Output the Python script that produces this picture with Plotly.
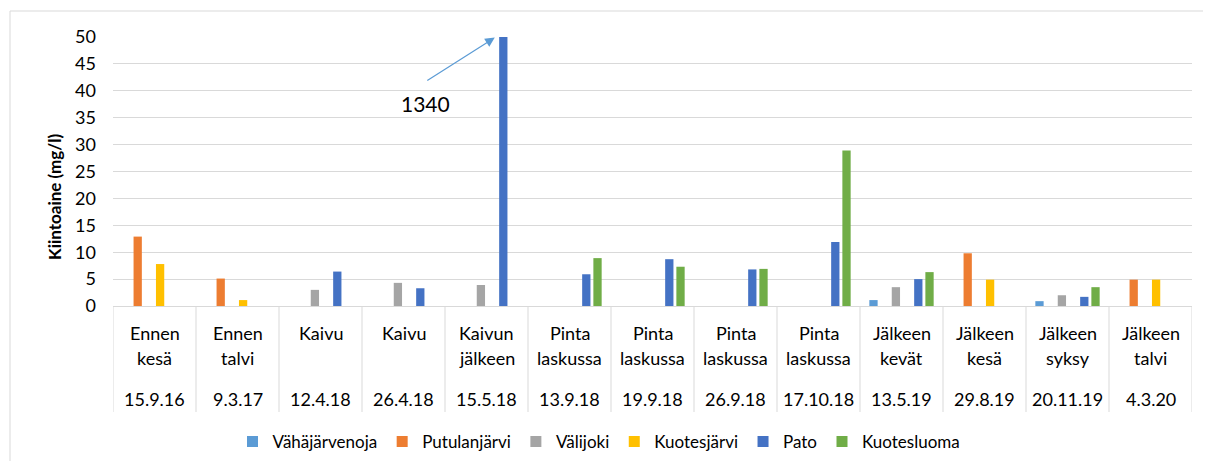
import plotly.graph_objects as go

phases = ["Ennen kesä", "Ennen talvi", "Kaivu", "Kaivu", "Kaivun jälkeen",
          "Pinta laskussa", "Pinta laskussa", "Pinta laskussa", "Pinta laskussa",
          "Jälkeen kevät", "Jälkeen kesä", "Jälkeen syksy", "Jälkeen talvi"]
dates = ["15.9.16", "9.3.17", "12.4.18", "26.4.18", "15.5.18", "13.9.18", "19.9.18",
         "26.9.18", "17.10.18", "13.5.19", "29.8.19", "20.11.19", "4.3.20"]

vahajarvenoja = [None, None, None, None, None, None, None, None, None, 1.1, None, 0.9, None]
putulanjarvi = [12.9, 5.1, None, None, None, None, None, None, None, None, 9.8, None, 4.9]
valijoki = [None, None, 3.0, 4.3, 3.9, None, None, None, None, 3.5, None, 2.0, None]
kuotesjarvi = [7.8, 1.1, None, None, None, None, None, None, None, None, 4.9, None, 4.9]
pato = [None, None, 6.4, 3.3, 1340, 5.9, 8.7, 6.8, 11.9, 5.0, None, 1.7, None]
kuotesluoma = [None, None, None, None, None, 8.9, 7.3, 6.9, 28.9, 6.3, None, 3.5, None]

series_names = ["Vähäjärvenoja", "Putulanjärvi", "Välijoki", "Kuotesjärvi", "Pato", "Kuotesluoma"]
series_values = [vahajarvenoja, putulanjarvi, valijoki, kuotesjarvi, pato, kuotesluoma]
colors = ["#5B9BD5", "#ED7D31", "#A5A5A5", "#FFC000", "#4472C4", "#70AD47"]

annot_value = "1340"
y_title = "Kiintoaine (mg/l)"

FONT = "Lato"
TXT = "#000000"
GRID = "#D9D9D9"
FS = 18

fig = go.Figure()
for name, vals, col in zip(series_names, series_values, colors):
    fig.add_trace(go.Bar(x=dates, y=vals, name=name, marker_color=col,
                         marker_line_width=0, showlegend=False))
# legend entries with square keys
for name, col in zip(series_names, colors):
    fig.add_trace(go.Scatter(x=[None], y=[None], mode="markers", name=name,
                             marker=dict(symbol="square", size=11, color=col)))

# page offset (body margin) compensation
OFF = 8
W, H = 1211 - 2 * OFF, 469 - 2 * OFF
left_px, right_px, top_px, bottom_px = 113 - OFF, 1192 - OFF, 37 - OFF, 306 - OFF
ml, mr, mt, mb = left_px, W - right_px, top_px, H - bottom_px
pw = right_px - left_px
ph = bottom_px - top_px

def py(pix):
    return (bottom_px - (pix - OFF)) / ph

def px(pix):
    return ((pix - OFF) - left_px) / pw

shapes = []
for i in range(len(dates) + 1):
    shapes.append(dict(type="line", xref="x", yref="paper", x0=i - 0.5, x1=i - 0.5,
                       y0=0, y1=py(412), line=dict(color=GRID, width=1)))
# chart-area border (left & top edges visible in the frame)
shapes.append(dict(type="line", xref="paper", yref="paper", x0=px(10), x1=px(10),
                   y0=py(11), y1=py(470), line=dict(color=GRID, width=1)))
shapes.append(dict(type="line", xref="paper", yref="paper", x0=px(10), x1=px(1215),
                   y0=py(11), y1=py(11), line=dict(color=GRID, width=1)))

annotations = []
for i, (ph_txt, d) in enumerate(zip(phases, dates)):
    words = ph_txt.split(" ")
    for j, w in enumerate(words):
        annotations.append(dict(x=i, y=py(333 + 25 * j), xref="x", yref="paper", text=w,
                                showarrow=False, font=dict(family=FONT, size=FS, color=TXT),
                                xanchor="center", yanchor="middle"))
    annotations.append(dict(x=i, y=py(399), xref="x", yref="paper", text=d,
                            showarrow=False, font=dict(family=FONT, size=FS, color=TXT),
                            xanchor="center", yanchor="middle"))

# y-axis title
annotations.append(dict(x=px(54), y=py(197), xref="paper", yref="paper", text="<b>" + y_title + "</b>",
                        textangle=-90, showarrow=False,
                        font=dict(family=FONT, size=17, color=TXT),
                        xanchor="center", yanchor="middle"))

# arrow to the clipped bar
annotations.append(dict(x=4.1, y=49.9, xref="x", yref="y", text="",
                        showarrow=True, ax=-69, ay=44, arrowhead=2, arrowsize=1.6,
                        arrowwidth=1.2, arrowcolor="#5B9BD5", standoff=0))
annotations.append(dict(x=3.26, y=37.6, xref="x", yref="y", text=annot_value,
                        showarrow=False, font=dict(family=FONT, size=21, color=TXT),
                        xanchor="center", yanchor="middle"))

fig.update_layout(
    width=W, height=H,
    margin=dict(l=ml, r=mr, t=mt, b=mb, autoexpand=False),
    paper_bgcolor="white", plot_bgcolor="white",
    barmode="group", bargap=0.19, bargroupgap=0.26,
    font=dict(family=FONT, size=FS, color=TXT),
    shapes=shapes, annotations=annotations,
    showlegend=True,
    legend=dict(orientation="h", x=px(599), xanchor="center", y=py(442), yanchor="middle",
                font=dict(family=FONT, size=17, color=TXT), traceorder="normal",
                itemwidth=30),
)
fig.update_xaxes(type="category", range=[-0.5, len(dates) - 0.5], showticklabels=False,
                 showline=True, linecolor=GRID, linewidth=1, showgrid=False, ticks="")
fig.update_yaxes(range=[0, 50], dtick=5, showgrid=True, gridcolor=GRID, gridwidth=1,
                 zeroline=False, showline=False, ticks="", ticklabelstandoff=16,
                 tickfont=dict(family=FONT, size=FS, color=TXT))

fig.write_html("out.html")
